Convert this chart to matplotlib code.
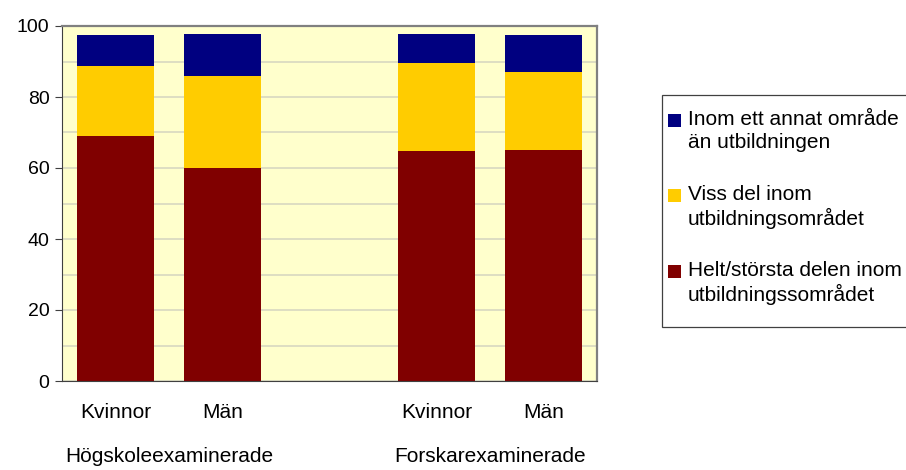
import numpy as np
import matplotlib.pyplot as plt
from matplotlib.patches import Rectangle

plt.rcParams['font.family'] = ['Liberation Sans', 'DejaVu Sans']

categories = ['Kvinnor', 'Män', 'Kvinnor', 'Män']
groups = ['Högskoleexaminerade', 'Forskarexaminerade']
helt = [69.0, 60.0, 64.8, 65.1]
viss = [19.7, 25.9, 24.8, 21.9]
annat = [8.8, 11.8, 8.1, 10.5]
series_names = ['Helt/största delen inom\nutbildningssområdet',
                'Viss del inom\nutbildningsområdet',
                'Inom ett annat område\nän utbildningen']
colors = ['#800000', '#FFCC00', '#000080']

W, H = 906, 470
x = np.array([0, 1, 3, 4])

fig = plt.figure(figsize=(W / 100, H / 100), dpi=100)
ax = fig.add_axes([62 / W, 89 / H, 535 / W, 355 / H])
ax.set_facecolor('#FFFFCC')

bottom = np.zeros(4)
for vals, name, c in zip([helt, viss, annat], series_names, colors):
    ax.bar(x, vals, width=0.72, bottom=bottom, color=c, label=name, zorder=2)
    bottom += np.array(vals)

ax.set_xlim(-0.5, 4.5)
ax.set_ylim(0, 100)
ax.set_yticks(range(0, 101, 20))
ax.set_yticks(range(0, 101, 10), minor=True)
ax.tick_params(axis='y', which='minor', length=0)
ax.tick_params(axis='y', which='major', length=5, labelsize=14, direction='out',
               color='#404040', pad=4)
ax.grid(axis='y', which='both', color='#D8D8C0', linewidth=1.2, zorder=1)

ax.set_xticks([])
for xi, cat in zip(x, categories):
    ax.text(xi, -32 / 355, cat, transform=ax.get_xaxis_transform(),
            ha='center', va='center', fontsize=15)
for gx, g in zip([0.5, 3.5], groups):
    ax.text(gx, -75 / 355, g, transform=ax.get_xaxis_transform(),
            ha='center', va='center', fontsize=15)

for s in ['top', 'right']:
    ax.spines[s].set_color('#808080')
    ax.spines[s].set_linewidth(1.6)
ax.spines['left'].set_color('#404040')
ax.spines['bottom'].set_color('#404040')

# legend drawn by hand so the markers sit on the first line of each label
def fx(px):
    return px / W

def fy(py):
    return 1 - py / H

fig.patches.append(Rectangle((fx(662), fy(327)), fx(260), (327 - 95) / H,
                             transform=fig.transFigure, facecolor='white',
                             edgecolor='#404040', linewidth=0.9, clip_on=True))
line_y = [271, 195, 120]
for ly, name, c in zip(line_y, series_names, colors):
    fig.patches.append(Rectangle((fx(668), fy(ly + 7)), fx(13), 13 / H,
                                 transform=fig.transFigure, facecolor=c,
                                 edgecolor='none'))
    fig.text(fx(688), fy(ly - 10), name, ha='left', va='top', fontsize=15,
             linespacing=1.25)

fig.savefig('out.png', dpi=100)
